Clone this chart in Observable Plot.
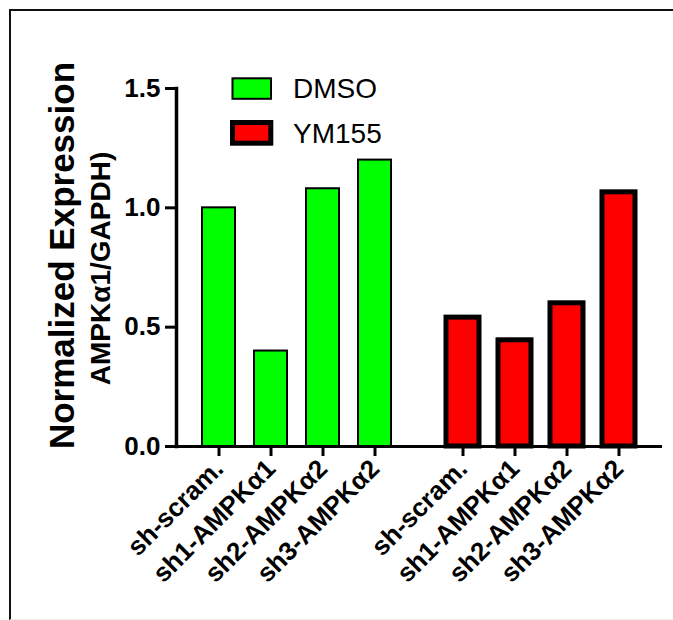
<!DOCTYPE html>
<html><head><meta charset="utf-8">
<script src="https://cdn.jsdelivr.net/npm/d3@7"></script>
<script src="https://cdn.jsdelivr.net/npm/@observablehq/plot@0.6"></script>
<style>
body{margin:0;background:#fff;}
#wrap{position:relative;width:673px;height:620px;overflow:hidden;font-family:Arial,"Liberation Sans",sans-serif;}
#border{position:absolute;left:9px;top:9px;width:700px;height:608px;border-left:2.5px solid #111;border-top:2.5px solid #111;border-bottom:1px solid #eee;}
#chart{position:absolute;left:0;top:0;}
#legend{position:absolute;left:0;top:0;}
</style></head><body>
<div id="wrap"><div id="border"></div><div id="chart"></div><svg id="legend" width="673" height="620"></svg></div>
<script>
const groups = ["DMSO", "YM155"];
const categories = ["sh-scram.", "sh1-AMPKα1", "sh2-AMPKα2", "sh3-AMPKα2"];
const dmsoValues = [1.00, 0.40, 1.08, 1.20];
const ym155Values = [0.54, 0.445, 0.60, 1.065];
const groupFills = ["#00ff00", "#ff0000"];
const groupStrokeWidths = [2, 5];
const yTicks = [0, 0.5, 1.0, 1.5];
const yTitle = "Normalized Expression";
const ySubtitle = "AMPKα1/GAPDH)";

const rows = [];
groups.forEach((g, gi) => {
  const vals = gi === 0 ? dmsoValues : ym155Values;
  categories.forEach((c, i) => rows.push({group: g, category: c, value: vals[i]}));
});

const font = "Arial, 'Liberation Sans', sans-serif";
const chart = Plot.plot({
  width: 673, height: 620,
  marginLeft: 175, marginRight: 11, marginTop: 88, marginBottom: 174,
  style: {fontFamily: font, color: "#000", background: "transparent", overflow: "visible"},
  fx: {domain: groups, axis: null, paddingInner: 0.01, paddingOuter: 0},
  x: {domain: categories, paddingInner: 0.36, paddingOuter: 0.49, axis: null},
  y: {domain: [0, 1.5], axis: null},
  marks: [
    ...groups.map((g, gi) => Plot.barY(rows.filter(d => d.group === g), {
      fx: "group", x: "category", y: "value",
      fill: groupFills[gi], stroke: "#000", strokeWidth: groupStrokeWidths[gi]
    })),
    Plot.ruleY([0], {stroke: "#000", strokeWidth: 3, insetLeft: -11}),
    Plot.frame({anchor: "left", facetAnchor: "left", stroke: "#000", strokeWidth: 3.5}),
    Plot.axisY({ticks: yTicks, tickSize: 11, tickPadding: 5, tickFormat: d3.format(".1f"),
      fontSize: 26, fontWeight: "bold", strokeWidth: 3, label: null}),
    Plot.axisX({tickSize: 10, tickRotate: -45, tickPadding: 8, fontSize: 26, fontWeight: "bold",
      strokeWidth: 3, label: null}),
    Plot.text([yTitle], {text: d => d, fx: () => groups[0], frameAnchor: "left", textAnchor: "middle",
      rotate: -90, dx: -114, dy: -12, fontSize: 35, fontWeight: "bold"}),
    Plot.text([ySubtitle], {text: d => d, fx: () => groups[0], frameAnchor: "left", textAnchor: "middle",
      rotate: -90, dx: -75, dy: 1, fontSize: 28, fontWeight: "bold"})
  ]
});
document.getElementById("chart").appendChild(chart);

// legend
const leg = d3.select("#legend");
const legendRows = [
  {label: groups[0], fill: groupFills[0], sw: groupStrokeWidths[0], x: 232.5, y: 78.3, w: 38.5, h: 20.5, ty: 98},
  {label: groups[1], fill: groupFills[1], sw: groupStrokeWidths[1], x: 232.5, y: 122.5, w: 38.3, h: 20.7, ty: 142.5}
];
legendRows.forEach(r => {
  leg.append("rect").attr("x", r.x).attr("y", r.y).attr("width", r.w).attr("height", r.h)
    .attr("fill", r.fill).attr("stroke", "#000").attr("stroke-width", r.sw);
  leg.append("text").attr("x", 293).attr("y", r.ty).attr("font-size", 28)
    .attr("font-family", font).attr("fill", "#000").text(r.label);
});
</script></body></html>
